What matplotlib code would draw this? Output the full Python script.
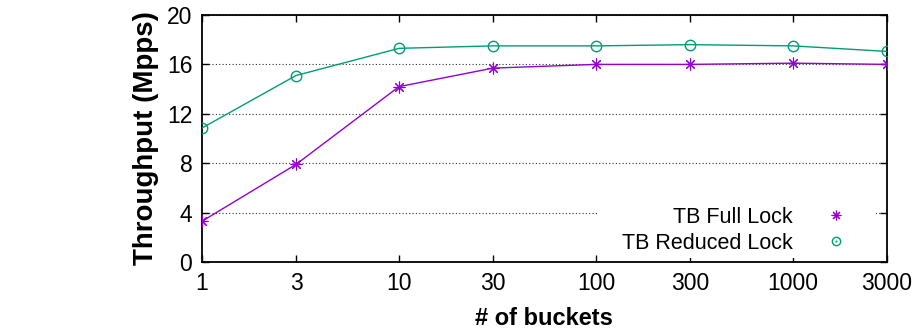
import matplotlib
matplotlib.use("Agg")
import matplotlib.pyplot as plt
from matplotlib.lines import Line2D
from matplotlib.patches import Rectangle
from matplotlib.legend_handler import HandlerTuple

buckets = [1, 3, 10, 30, 100, 300, 1000, 3000]
tick_labels = ["1", "3", "10", "30", "100", "300", "1000", "3000"]
full_lock = [3.3, 7.9, 14.2, 15.7, 16.0, 16.0, 16.1, 16.0]
reduced_lock = [10.85, 15.1, 17.3, 17.5, 17.5, 17.6, 17.5, 17.05]

plt.rcParams['font.family'] = ['Liberation Sans', 'DejaVu Sans']

W, H = 918, 331
L, R, T, B = 202, 887, 15, 262
fig = plt.figure(figsize=(W/100, H/100), dpi=100)
ax = fig.add_axes([L/W, 1-B/H, (R-L)/W, (B-T)/H])

def ax_x(px):
    return (px - L) / (R - L)

def ax_y(py):
    return (B - py) / (B - T)

purple = '#9400D3'
green = '#009E73'
star = (8, 2, 0)

ax.plot(buckets, full_lock, color=purple, lw=1, marker=star, ms=8.5, mew=0.8, zorder=3)
ax.plot(buckets, reduced_lock, color=green, lw=1, marker='o', ms=7.5, mfc='none', mew=1, zorder=3)

ax.set_xscale('log')
ax.set_xlim(1, 3000)
ax.set_ylim(0, 20)
ax.set_xticks(buckets)
ax.set_xticklabels(tick_labels)
ax.minorticks_off()
ax.set_yticks([0, 4, 8, 12, 16, 20])
ax.tick_params(direction='in', top=True, right=True, labelsize=16.5, length=5, width=1, pad=7)
for s in ax.spines.values():
    s.set_linewidth(1.3)
ax.yaxis.grid(True, linestyle=(0, (1, 2)), color='#333333', lw=0.8)
ax.set_axisbelow(True)

ax.set_ylabel('Throughput (Mpps)', fontsize=20, fontweight='bold')
ax.yaxis.set_label_coords(ax_x(159), 0.5)
ax.set_xlabel('# of buckets', fontsize=17, fontweight='bold')
ax.xaxis.set_label_coords(0.499, ax_y(307))

# opaque key background (covers the grid behind the key)
ax.add_patch(Rectangle((ax_x(599), ax_y(258)), ax_x(876) - ax_x(599), ax_y(197) - ax_y(258),
                       transform=ax.transAxes, facecolor='white', edgecolor='none', zorder=2))

h_full = Line2D([], [], color=purple, marker=star, ls='none', ms=7, mew=0.8)
h_red = (Line2D([], [], color=green, marker='o', ls='none', ms=6, mfc='none', mew=1),
         Line2D([], [], color=green, marker='o', ls='none', ms=1.5, mew=0))
leg = ax.legend([h_full, h_red], ['TB Full Lock', 'TB Reduced Lock'], markerfirst=False,
                handler_map={tuple: HandlerTuple(ndivide=1, pad=0)},
                loc='lower right', bbox_to_anchor=(ax_x(851), ax_y(258)), fontsize=15.5,
                frameon=False, handlelength=1.0, handletextpad=1.5, labelspacing=0.22,
                borderpad=0.2, borderaxespad=0)
leg.set_zorder(5)

fig.savefig('out.png', dpi=100)
